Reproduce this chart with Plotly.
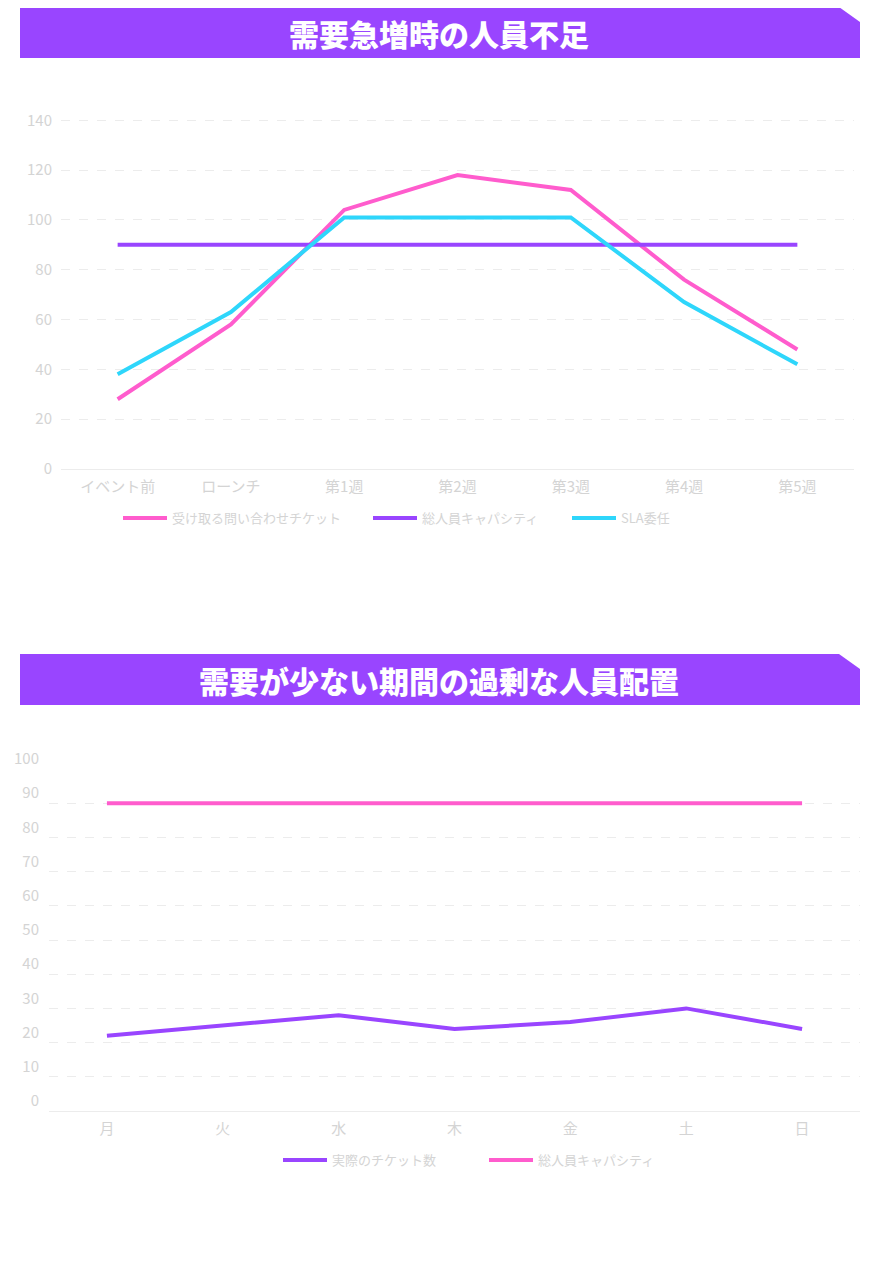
import plotly.graph_objects as go

PAGE_W, PAGE_H = 885, 1275
OFF = 8  # page body margin
W, H = PAGE_W - OFF, PAGE_H - OFF

# ---- data ----
title1 = "需要急増時の人員不足"
cats1 = ["イベント前", "ローンチ", "第1週", "第2週", "第3週", "第4週", "第5週"]
tickets1 = [28, 58, 104, 118, 112, 76, 48]
capacity1 = [90, 90, 90, 90, 90, 90, 90]
sla1 = [38, 63, 101, 101, 101, 67, 42]
names1 = ["受け取る問い合わせチケット", "総人員キャパシティ", "SLA委任"]

title2 = "需要が少ない期間の過剰な人員配置"
cats2 = ["月", "火", "水", "木", "金", "土", "日"]
actual2 = [22, 25, 28, 24, 26, 30, 24]
capacity2 = [90, 90, 90, 90, 90, 90, 90]
names2 = ["実際のチケット数", "総人員キャパシティ"]

PURPLE = "#9945ff"
PINK = "#ff5ccd"
CYAN = "#2ed6fb"
TXT = "#d4d4d4"
GRID = "#ececec"
FONT = "Noto Sans CJK JP"

def px(x):
    return (x - OFF) / W

def py(y):
    return 1 - (y - OFF) / H

fig = go.Figure()

fig.add_trace(go.Scatter(x=cats1, y=tickets1, name=names1[0], mode="lines",
                         line=dict(color=PINK, width=4), xaxis="x", yaxis="y", legend="legend"))
fig.add_trace(go.Scatter(x=cats1, y=capacity1, name=names1[1], mode="lines",
                         line=dict(color=PURPLE, width=4), xaxis="x", yaxis="y", legend="legend2"))
fig.add_trace(go.Scatter(x=cats1, y=sla1, name=names1[2], mode="lines",
                         line=dict(color=CYAN, width=4), xaxis="x", yaxis="y", legend="legend3"))

fig.add_trace(go.Scatter(x=cats2, y=actual2, name=names2[0], mode="lines",
                         line=dict(color=PURPLE, width=4), xaxis="x2", yaxis="y2", legend="legend4"))
fig.add_trace(go.Scatter(x=cats2, y=capacity2, name=names2[1], mode="lines",
                         line=dict(color=PINK, width=4), xaxis="x2", yaxis="y2", legend="legend5"))

axis_font = dict(family=FONT, size=15, color=TXT)

def yax(domain, rng, dtick, anchor, shift=0, standoff=7):
    return dict(domain=domain, range=rng, dtick=dtick, anchor=anchor,
                showgrid=True, gridcolor=GRID, griddash="dash", gridwidth=1,
                zeroline=True, zerolinecolor=GRID, zerolinewidth=1,
                showline=False, ticks="", tickfont=axis_font, ticklabelshift=shift,
                ticklabelstandoff=standoff, automargin=False, fixedrange=True)

def xax(domain, anchor):
    return dict(domain=domain, anchor=anchor, type="category", range=[-0.5, 6.5],
                showgrid=False, zeroline=False, showline=False, ticks="",
                tickfont=axis_font, ticklabelstandoff=7, automargin=False, fixedrange=True)

def leg(x, y):
    return dict(x=px(x), y=py(y), xanchor="left", yanchor="middle", orientation="h",
                bgcolor="rgba(0,0,0,0)", borderwidth=0, visible=True, itemwidth=44,
                font=dict(family=FONT, size=13, color=TXT))

fig.update_layout(
    width=W, height=H, margin=dict(l=0, r=0, t=0, b=0, pad=0, autoexpand=False),
    paper_bgcolor="white", plot_bgcolor="white",
    font=dict(family=FONT),
    showlegend=True,
    xaxis=xax([px(61), px(854)], "y"),
    yaxis=yax([py(469), py(119)], [0, 140.5], 20, "x", standoff=8),
    xaxis2=xax([px(49), px(860)], "y2"),
    yaxis2=yax([py(1111), py(769)], [0, 100], 10, "x2", shift=-10, standoff=9),
    legend=leg(118, 518),
    legend2=leg(368, 518),
    legend3=leg(567, 518),
    legend4=leg(278, 1160),
    legend5=leg(484, 1160),
)

def banner(top, bottom, text):
    path = (f"M {px(20)},{py(top)} L {px(839)},{py(top)} L {px(860)},{py(top + 15)} "
            f"L {px(860)},{py(bottom)} L {px(20)},{py(bottom)} Z")
    fig.add_shape(type="path", path=path, xref="paper", yref="paper",
                  fillcolor=PURPLE, line=dict(width=0), layer="below")
    fig.add_annotation(x=px(439), y=py((top + bottom) / 2), xref="paper", yref="paper",
                       text=text, showarrow=False, xanchor="center", yanchor="middle",
                       font=dict(family=FONT, size=30, color="white", weight=900))

banner(7, 58, title1)
banner(654, 705, title2)

fig.write_html("out.html")
